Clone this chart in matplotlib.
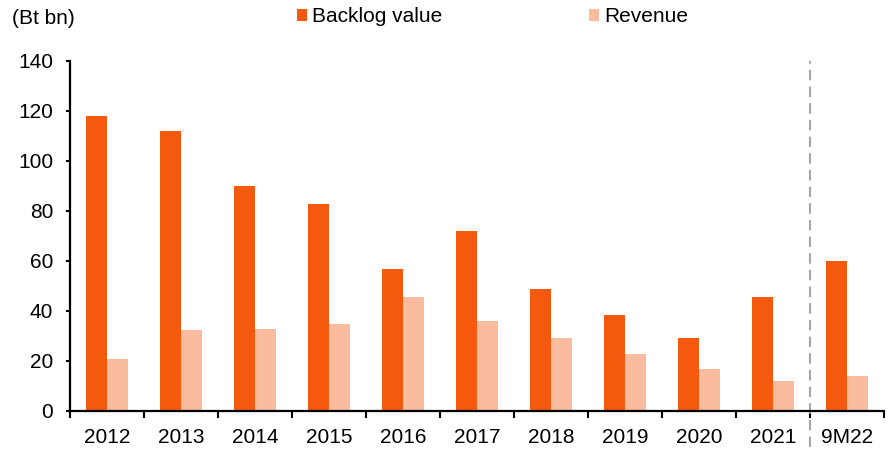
import matplotlib.pyplot as plt
import numpy as np

plt.rcParams['font.family'] = ['Liberation Sans', 'DejaVu Sans']

# Données
periodes = ['2012', '2013', '2014', '2015', '2016', '2017', '2018', '2019', '2020', '2021', '9M22']
backlog = [118, 112, 90, 83, 56.7, 72, 48.8, 38.3, 29.1, 45.7, 60]
revenue = [20.7, 32.4, 32.8, 34.7, 45.6, 35.9, 29.2, 22.8, 16.7, 12, 14]

col_backlog = '#F4590E'
col_revenue = '#F9BC9E'
fs = 15

fig = plt.figure(figsize=(8.88, 4.5), dpi=100)
ax = fig.add_axes([70 / 888, 39 / 450, 814 / 888, 350 / 450])

x = np.arange(len(periodes))
w = 0.285
ax.bar(x - w / 2, backlog, w, color=col_backlog, label='Backlog value')
ax.bar(x + w / 2, revenue, w, color=col_revenue, label='Revenue')

ax.set_xlim(-0.5, len(periodes) - 0.5)
ax.set_ylim(0, 140)
ax.set_yticks(np.arange(0, 141, 20))

# ticks aux frontières, étiquettes au centre
ax.set_xticks(x)
ax.set_xticklabels(periodes)
ax.set_xticks(np.arange(-0.5, len(periodes), 1), minor=True)
ax.tick_params(axis='x', which='major', length=0, pad=12, labelsize=fs)
ax.tick_params(axis='x', which='minor', length=5, width=1.5, direction='out')
ax.tick_params(axis='y', length=3, width=1.5, pad=9, labelsize=fs)

for s in ['top', 'right']:
    ax.spines[s].set_visible(False)
for s in ['left', 'bottom']:
    ax.spines[s].set_linewidth(1.6)

# séparation 9M22
ax.axvline(len(periodes) - 1.5, ymin=-0.103, ymax=1.0, color='#A6A6A6',
           linewidth=1.5, linestyle=(0, (5, 3)), clip_on=False)

fig.text(12 / 888, 1 - 18 / 450, '(Bt bn)', fontsize=fs, va='center', ha='left')

fig.legend(loc='center', bbox_to_anchor=(0.5546, 1 - 17 / 450), ncol=2, frameon=False,
           fontsize=fs, handlelength=0.5, handleheight=0.5, handletextpad=0.25,
           columnspacing=7.0, borderpad=0)

plt.savefig('out.png', dpi=100)
